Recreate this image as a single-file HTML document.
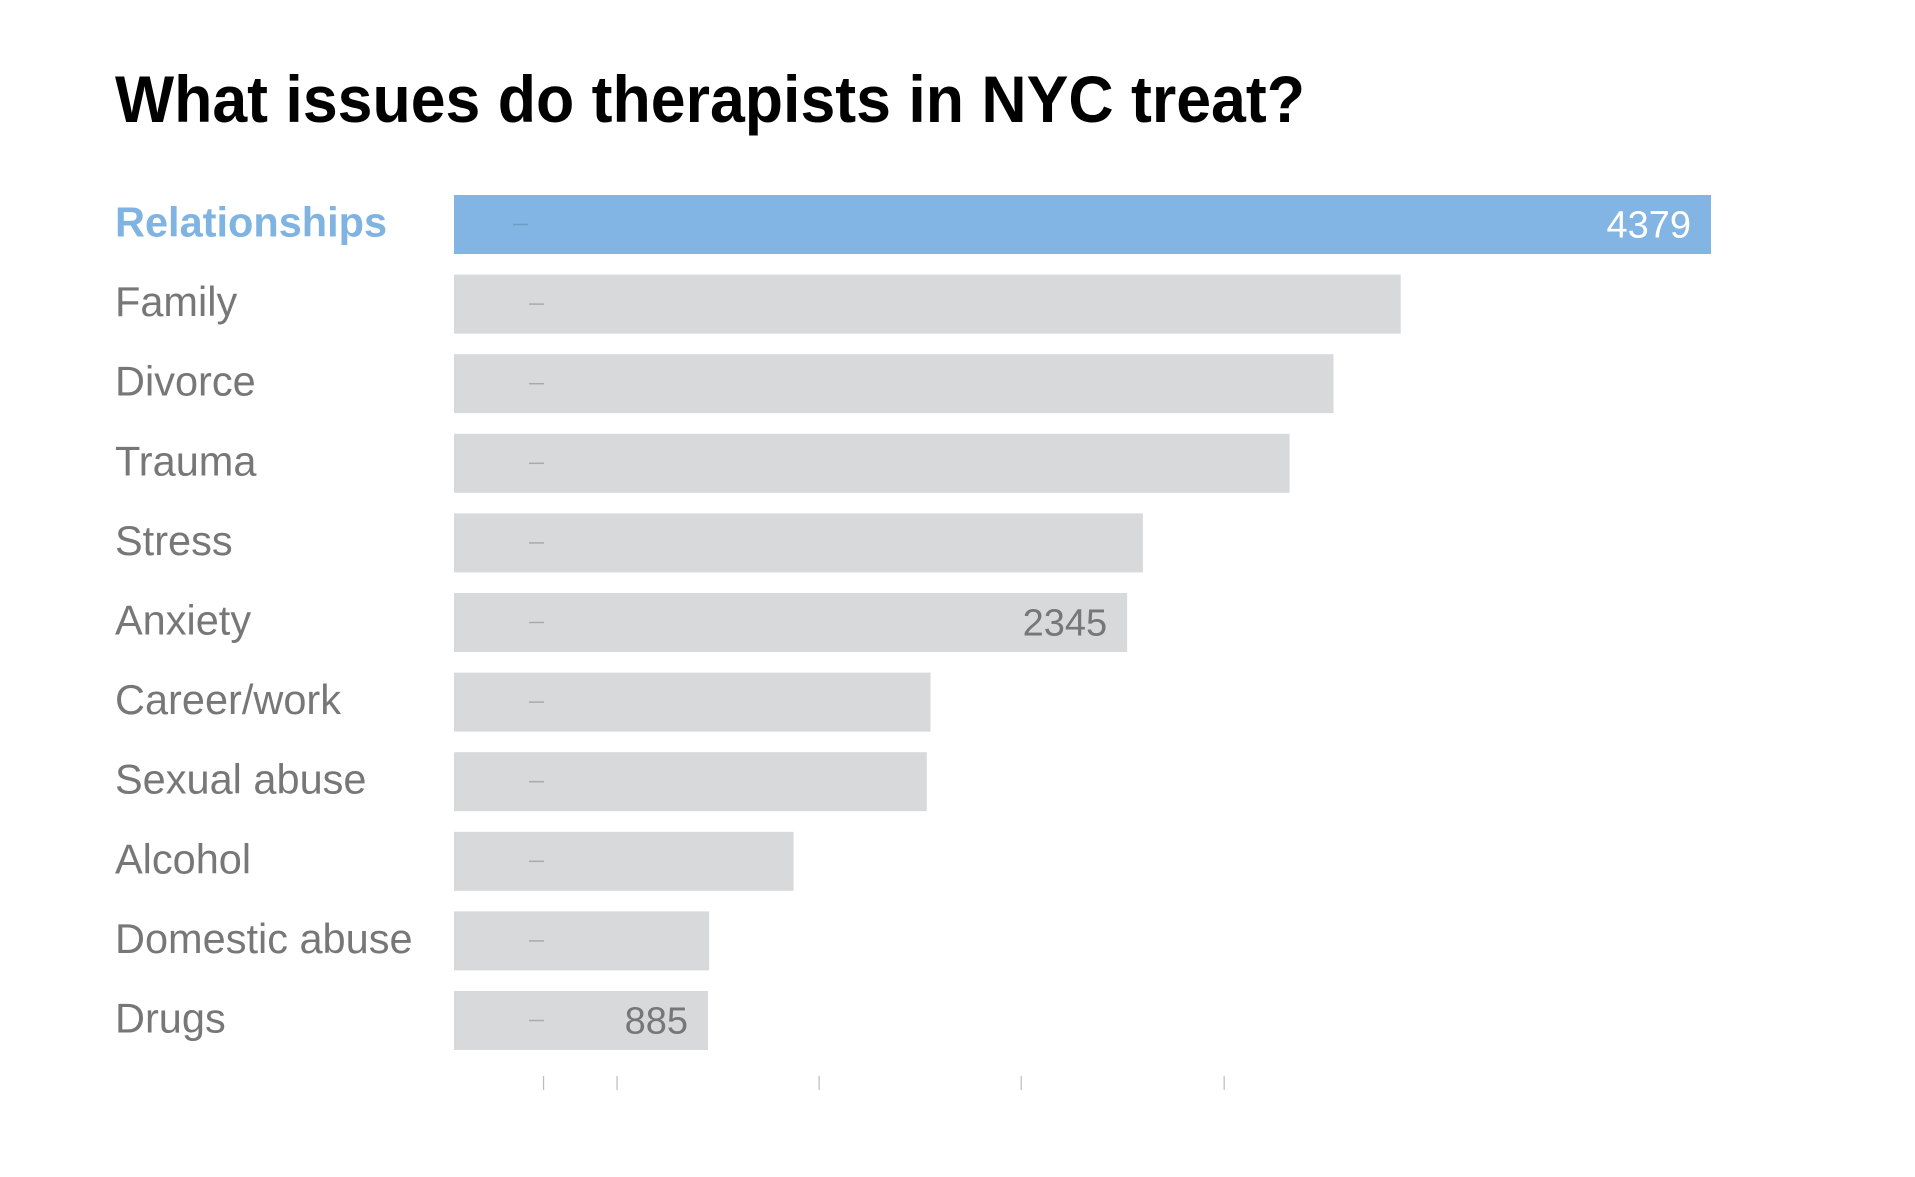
<!DOCTYPE html>
<html><head><meta charset="utf-8"><style>
body{margin:0;background:#fff;}
svg{display:block;font-family:"Liberation Sans",Arial,sans-serif;}
</style></head><body>
<svg id="chart" width="1915" height="1177" viewBox="0 0 1915 1177">
<text x="115" y="122" font-size="66" font-weight="bold" fill="#000" textLength="1190" lengthAdjust="spacingAndGlyphs">What issues do therapists in NYC treat?</text>
<g id="bars"></g>
<g id="ticks"></g>
</svg>
<script>
const categories = ["Relationships","Family","Divorce","Trauma","Stress","Anxiety","Career/work","Sexual abuse","Alcohol","Domestic abuse","Drugs"];
const values = [4379,3298,3064,2911,2400,2345,1660,1647,1183,889,885];
const shownValues = [4379,null,null,null,null,2345,null,null,null,null,885];
const tickValues = [312,568,1272,1976,2683];

const X0 = 454, maxW = 1257, maxV = 4379;
const x = v => X0 + v / maxV * maxW;
const Y0 = 195, pitch = 79.6, barH = 59;
const y = i => Y0 + i * pitch;
const NS = "http://www.w3.org/2000/svg";
const gb = document.getElementById("bars");
const gt = document.getElementById("ticks");
function mk(tag, attrs, parent){const e=document.createElementNS(NS,tag);for(const k in attrs)e.setAttribute(k,attrs[k]);parent.appendChild(e);return e;}

categories.forEach((c,i)=>{
  const hi = i===0;
  const r = mk("rect",{x:X0,y:y(i),width:x(values[i])-X0,height:barH,fill:hi?"#82b5e3":"#d8d9db"},gb);
  
  
  const d = mk("line",{x1:hi?513:529,x2:hi?528:544,y1:y(i)+barH/2,y2:y(i)+barH/2,stroke:hi?"#6d9cc6":"#aaa","stroke-width":1.5},gb);
  
  
  const t = mk("text",{x:115,y:y(i)+barH/2+12,"font-size":41.5,fill:hi?"#7fb4e2":"#777","font-weight":hi?"bold":"normal"},gb);
  t.textContent = c;
  
  
  if(shownValues[i]!==null){
    const v = mk("text",{x:x(values[i])-20,y:y(i)+barH/2+13,"font-size":38,"text-anchor":"end",fill:hi?"#fff":"#777"},gb);
    v.textContent = shownValues[i];
    
    
  }
});
tickValues.forEach(tv=>{
  const l = mk("line",{x1:x(tv),x2:x(tv),y1:1076,y2:1090,stroke:"#bbb","stroke-width":1.2},gt);
  
  
});
</script>
</body></html>
